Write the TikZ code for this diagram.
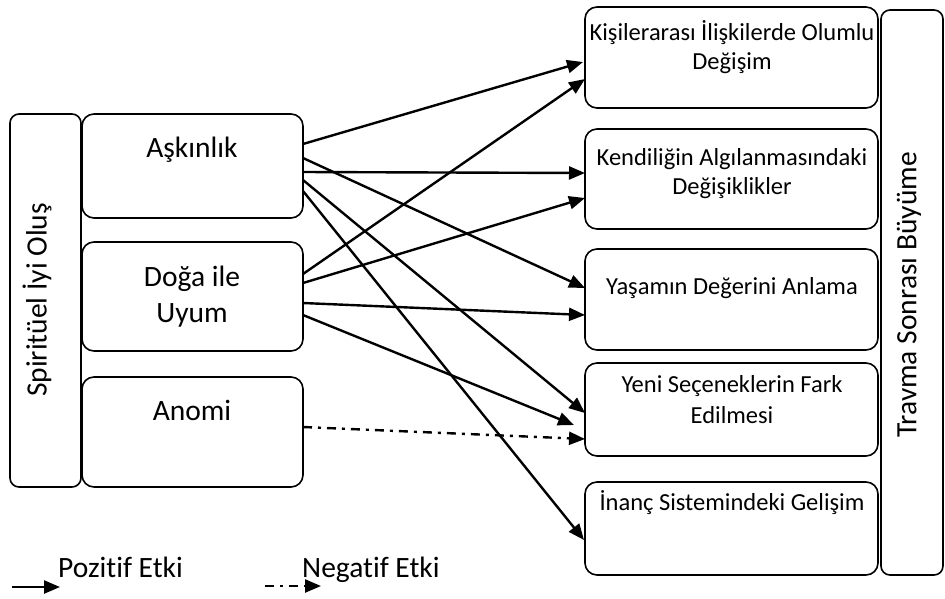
\documentclass[tikz,border=0pt]{standalone}
\usepackage{fontspec}
\setmainfont{Carlito}[RawFeature=-liga]
\usetikzlibrary{arrows.meta}
\begin{document}
\begin{tikzpicture}[x=1pt,y=-1pt,
  box/.style={draw,line width=1.6pt,rounded corners=12pt},
  sbox/.style={draw,line width=1.6pt,rounded corners=9pt},
  big/.style={font=\fontsize{29.5}{36}\selectfont,inner sep=0pt,anchor=base},
  small/.style={font=\fontsize{24.5}{30}\selectfont,inner sep=0pt,anchor=base},
  arr/.style={line width=2.4pt,-{Triangle[length=16pt,width=13pt]}},
  neg/.style={arr,dash pattern=on 9pt off 6pt on 3pt off 6pt}]
\useasboundingbox (0,0) rectangle (945,598);
% left boxes
\draw[sbox] (10,114) rectangle (81,487);
\node[big,rotate=90,anchor=center] (spir) at (37,300) {Spiritüel İyi Oluş};
\draw[box] (82,114) rectangle (303,218);
\draw[box] (82,242) rectangle (303,351);
\draw[box] (82,377) rectangle (303,487);
\node[big] (ask) at (192,157) {Aşkınlık};
\node[big] (doga1) at (192,286) {Doğa ile};
\node[big] (doga2) at (192,322) {Uyum};
\node[big] (anomi) at (192,420) {Anomi};
% right boxes
\draw[box] (585,7) rectangle (878,108);
\draw[box] (585,129) rectangle (878,229);
\draw[box] (585,249) rectangle (878,350);
\draw[box] (585,363) rectangle (878,456);
\draw[box] (585,482) rectangle (878,575);
\draw[sbox] (881,10) rectangle (943,575);
\node[big,rotate=90,anchor=center] (tsb) at (909,295) {Travma Sonrası Büyüme};
\node[small] (r1a) at (732,40) {Kişilerarası İlişkilerde Olumlu};
\node[small] (r1b) at (732,69) {Değişim};
\node[small] (r2a) at (732,165) {Kendiliğin Algılanmasındaki};
\node[small] (r2b) at (732,194) {Değişiklikler};
\node[small] (r3) at (732,294) {Yaşamın Değerini Anlama};
\node[small] (r4a) at (732,392) {Yeni Seçeneklerin Fark};
\node[small] (r4b) at (732,423) {Edilmesi};
\node[small] (r5) at (732,510) {İnanç Sistemindeki Gelişim};
% connector points
\coordinate (sA1) at (303,144); \coordinate (tA1) at (583,62);
\coordinate (sA2) at (303,172); \coordinate (tA2) at (585,173);
\coordinate (sA3) at (303,158); \coordinate (tA3) at (585,288);
\coordinate (sA4) at (303,180); \coordinate (tA4) at (585,413);
\coordinate (sA5) at (303,191); \coordinate (tA5) at (584,540);
\coordinate (sD1) at (303,274); \coordinate (tD1) at (585,79);
\coordinate (sD2) at (303,283); \coordinate (tD2) at (585,198);
\coordinate (sD3) at (303,303); \coordinate (tD3) at (585,315);
\coordinate (sD4) at (303,315); \coordinate (tD4) at (574,425);
\coordinate (sN1) at (303,427); \coordinate (tN1) at (585,439);
\draw[arr] (sA1) -- (tA1);
\draw[arr] (sA2) -- (tA2);
\draw[arr] (sA3) -- (tA3);
\draw[arr] (sA4) -- (tA4);
\draw[arr] (sA5) -- (tA5);
\draw[arr] (sD1) -- (tD1);
\draw[arr] (sD2) -- (tD2);
\draw[arr] (sD3) -- (tD3);
\draw[arr] (sD4) -- (tD4);
\draw[neg] (sN1) -- (tN1);
% legend
\coordinate (lp0) at (12,587); \coordinate (lp1) at (60,587);
\coordinate (ln0) at (265,586); \coordinate (ln1) at (321,586);
\draw[arr] (lp0) -- (lp1);
\draw[neg] (ln0) -- (ln1);
\node[big,anchor=base west] (pos) at (58,577) {Pozitif Etki};
\node[big,anchor=base west] (negt) at (302,577) {Negatif Etki};
\end{tikzpicture}
\end{document}
